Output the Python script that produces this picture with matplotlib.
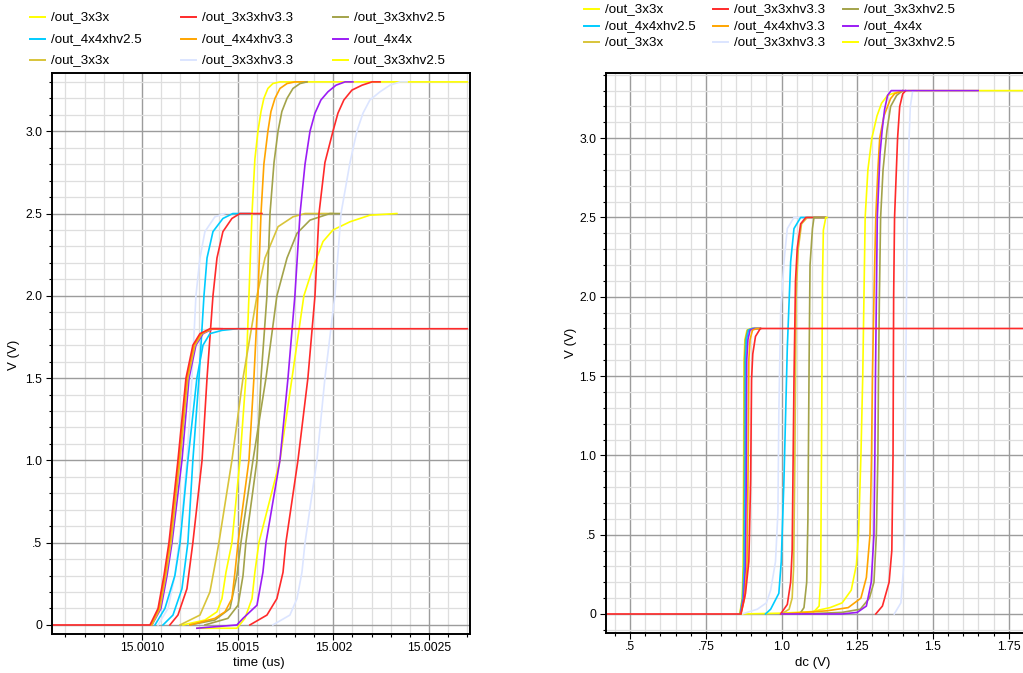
import numpy as np
import matplotlib.pyplot as plt
from matplotlib.lines import Line2D
from matplotlib.ticker import MultipleLocator

plt.rcParams['font.family'] = ['Liberation Sans', 'DejaVu Sans']

W, H = 1023, 673

# legend entries (same for both panels)
legend_labels = ['/out_3x3x', '/out_3x3xhv3.3', '/out_3x3xhv2.5',
                 '/out_4x4xhv2.5', '/out_4x4xhv3.3', '/out_4x4x',
                 '/out_3x3x', '/out_3x3xhv3.3', '/out_3x3xhv2.5']

c_yellow = '#ffff00'
c_red = '#ff2a2a'
c_olive = '#a3a34a'
c_cyan = '#00ccff'
c_orange = '#ffa500'
c_purple = '#9b1cf5'
c_gold = '#d8c43a'
c_lav = '#dce5ff'
legend_colors = [c_yellow, c_red, c_olive, c_cyan, c_orange, c_purple,
                 c_gold, c_lav, c_yellow]

# ---------------- transient: time (us) vs V ----------------
tr_yel33_t = [15.001214, 15.001329, 15.001392, 15.001418, 15.001439, 15.001470, 15.001512,
              15.001543, 15.001559, 15.001575, 15.001590, 15.001606, 15.001622, 15.001637,
              15.001658, 15.001684, 15.001721, 15.0027]
tr_yel33_v = [0, 0.03, 0.08, 0.16, 0.32, 0.5, 1.0, 1.5, 2.0, 2.5, 2.83, 3.0, 3.12, 3.2,
              3.26, 3.29, 3.3, 3.3]

tr_ora33_t = [15.001251, 15.001381, 15.001434, 15.001470, 15.001486, 15.001502, 15.001559,
              15.001585, 15.001606, 15.001622, 15.001637, 15.001658, 15.001674, 15.001695,
              15.001721, 15.001758, 15.001799, 15.001862]
tr_ora33_v = [0, 0.04, 0.08, 0.16, 0.32, 0.5, 1.0, 1.5, 2.0, 2.5, 2.8, 3.0, 3.12, 3.2,
              3.26, 3.29, 3.3, 3.3]

tr_oli33_t = [15.001329, 15.001449, 15.001502, 15.001528, 15.001543, 15.001601, 15.001622,
              15.001653, 15.001669, 15.001690, 15.001711, 15.001731, 15.001758, 15.001789,
              15.001826, 15.001862]
tr_oli33_v = [0, 0.04, 0.12, 0.3, 0.5, 1.0, 1.5, 2.0, 2.5, 2.81, 3.0, 3.12, 3.2, 3.26, 3.29, 3.3]

tr_pur33_t = [15.001287, 15.001496, 15.001528, 15.001601, 15.001632, 15.001648, 15.001721,
              15.001763, 15.001799, 15.001826, 15.001852, 15.001878, 15.001904, 15.001935,
              15.001972, 15.002014, 15.002061, 15.002102]
tr_pur33_v = [-0.02, 0, 0.04, 0.12, 0.32, 0.5, 1.0, 1.5, 2.0, 2.5, 2.8, 3.0, 3.11, 3.19,
              3.24, 3.28, 3.3, 3.3]

tr_red33_t = [15.001564, 15.001653, 15.001705, 15.001737, 15.001752, 15.001815, 15.001867,
              15.001904, 15.001925, 15.001956, 15.001998, 15.002024, 15.002055, 15.002097,
              15.002150, 15.002202, 15.002244]
tr_red33_v = [0, 0.06, 0.16, 0.32, 0.5, 1.0, 1.5, 2.0, 2.5, 2.81, 3.0, 3.11, 3.19, 3.25,
              3.28, 3.3, 3.3]

tr_lav33_t = [15.001684, 15.001773, 15.001810, 15.001836, 15.001852, 15.001914, 15.001956,
              15.002008, 15.002040, 15.002087, 15.002123, 15.002155, 15.002191, 15.002244,
              15.002296, 15.002348, 15.002385]
tr_lav33_v = [0, 0.06, 0.16, 0.32, 0.5, 1.0, 1.5, 2.0, 2.5, 2.81, 3.0, 3.11, 3.19, 3.24,
              3.28, 3.3, 3.3]

tr_lav25_t = [15.001084, 15.001136, 15.001172, 15.001204, 15.001235, 15.001261, 15.001282,
              15.001303, 15.001329, 15.001381, 15.001434]
tr_lav25_v = [0, 0.1, 0.3, 0.6, 1.0, 1.5, 2.0, 2.23, 2.39, 2.48, 2.5]

tr_cya25_t = [15.001110, 15.001162, 15.001209, 15.001240, 15.001266, 15.001298, 15.001324,
              15.001340, 15.001371, 15.001423, 15.001475, 15.001564]
tr_cya25_v = [0, 0.06, 0.22, 0.5, 1.0, 1.5, 2.0, 2.23, 2.39, 2.47, 2.5, 2.5]

tr_red25_t = [15.001146, 15.001188, 15.001235, 15.001266, 15.001314, 15.001340, 15.001371,
              15.001392, 15.001423, 15.001470, 15.001512, 15.001627]
tr_red25_v = [0, 0.06, 0.22, 0.5, 1.0, 1.5, 2.0, 2.23, 2.39, 2.47, 2.5, 2.5]

tr_gol25_t = [15.001199, 15.001303, 15.001355, 15.001387, 15.001402, 15.001470, 15.001528,
              15.001601, 15.001643, 15.001711, 15.001789, 15.001852, 15.001998]
tr_gol25_v = [0, 0.06, 0.2, 0.4, 0.5, 1.0, 1.5, 2.0, 2.23, 2.42, 2.48, 2.5, 2.5]

tr_oli25_t = [15.001251, 15.001381, 15.001460, 15.001496, 15.001517, 15.001580, 15.001648,
              15.001705, 15.001758, 15.001810, 15.001878, 15.001982, 15.002035]
tr_oli25_v = [0, 0.03, 0.1, 0.3, 0.5, 1.0, 1.5, 2.0, 2.23, 2.38, 2.46, 2.5, 2.5]

tr_yel25_t = [15.001287, 15.001496, 15.001538, 15.001575, 15.001590, 15.001611, 15.001721, 15.001784,
              15.001846, 15.001893, 15.001946, 15.001998, 15.002087, 15.002191, 15.002332]
tr_yel25_v = [-0.02, -0.02, 0.04, 0.16, 0.32, 0.5, 1.0, 1.5, 2.0, 2.17, 2.33, 2.4, 2.45, 2.49, 2.5]

tr_cya18_t = [15.001068, 15.001120, 15.001172, 15.001199, 15.001240, 15.001287, 15.001319,
              15.001355, 15.001418, 15.001496, 15.001538]
tr_cya18_v = [0, 0.1, 0.3, 0.5, 1.0, 1.5, 1.7, 1.77, 1.79, 1.8, 1.8]

tr_pur18_t = [15.001052, 15.001099, 15.001131, 15.001157, 15.001209, 15.001246, 15.001282,
              15.001319, 15.001371, 15.001418]
tr_gol18_t = [15.001052, 15.001094, 15.001125, 15.001152, 15.001199, 15.001240, 15.001277,
              15.001314, 15.001366, 15.001408]
tr_ora18_t = [15.001047, 15.001089, 15.001120, 15.001146, 15.001193, 15.001235, 15.001272,
              15.001308, 15.001361, 15.001397]
tr_v18 = [0, 0.1, 0.3, 0.5, 1.0, 1.5, 1.7, 1.77, 1.8, 1.8]

tr_red18_t = [15.00053, 15.001042, 15.001084, 15.001115, 15.001141, 15.001188, 15.001230,
              15.001266, 15.001303, 15.001355, 15.0027]
tr_red18_v = [0, 0, 0.1, 0.3, 0.5, 1.0, 1.5, 1.7, 1.77, 1.8, 1.8]

# ---------------- dc sweep: dc (V) vs V ----------------
dc_yel33_x = [0.870, 1.00, 1.10, 1.16, 1.20, 1.23, 1.247, 1.254, 1.262, 1.268, 1.272, 1.276,
              1.285, 1.298, 1.315, 1.33, 1.35, 1.38, 1.42, 1.797]
dc_yel33_v = [0, 0.005, 0.015, 0.04, 0.07, 0.15, 0.31, 0.5, 1.0, 1.5, 2.0, 2.5,
              2.8, 3.0, 3.14, 3.22, 3.27, 3.29, 3.3, 3.3]

dc_ora33_x = [1.00, 1.15, 1.22, 1.262, 1.28, 1.292, 1.297, 1.300, 1.305, 1.311, 1.318,
              1.324, 1.338, 1.36, 1.373, 1.40]
dc_ora33_v = [0, 0.02, 0.04, 0.1, 0.23, 0.5, 1.0, 1.5, 2.0, 2.5, 2.8, 3.0, 3.14, 3.25, 3.28, 3.3]

dc_oli33_x = [1.07, 1.20, 1.26, 1.29, 1.305, 1.313, 1.318, 1.320, 1.323, 1.327, 1.335,
              1.348, 1.36, 1.38, 1.40]
dc_oli33_v = [0, 0.01, 0.03, 0.1, 0.2, 0.5, 1.0, 1.5, 2.0, 2.5, 2.8, 3.05, 3.2, 3.27, 3.3]

dc_pur33_x = [1.00, 1.20, 1.25, 1.28, 1.296, 1.305, 1.308, 1.310, 1.313, 1.316, 1.325,
              1.332, 1.340, 1.350, 1.362, 1.649]
dc_pur33_v = [0, 0, 0.01, 0.05, 0.2, 0.5, 1.0, 1.5, 2.0, 2.5, 2.9, 3.05, 3.18, 3.27, 3.3, 3.3]

dc_red33_x = [1.311, 1.333, 1.355, 1.364, 1.368, 1.370, 1.373, 1.383, 1.390, 1.400, 1.410]
dc_red33_v = [0, 0.05, 0.2, 0.4, 1.0, 2.0, 2.5, 3.0, 3.2, 3.28, 3.3]

dc_lav33_x = [1.372, 1.394, 1.403, 1.406, 1.410, 1.415, 1.421, 1.425, 1.433, 1.44]
dc_lav33_v = [0, 0.07, 0.3, 0.5, 1.5, 2.5, 3.0, 3.2, 3.3, 3.3]

dc_lav25_x = [0.870, 0.920, 0.950, 0.964, 0.980, 0.988, 0.991, 0.997, 1.008, 1.019, 1.041, 1.145]
dc_lav25_v = [0, 0.03, 0.07, 0.15, 0.33, 0.64, 1.26, 1.9, 2.22, 2.43, 2.5, 2.5]

dc_cya25_x = [0.947, 0.964, 0.991, 0.999, 1.008, 1.019, 1.030, 1.041, 1.063, 1.145]
dc_cya25_v = [0, 0.03, 0.13, 0.33, 0.85, 1.68, 2.22, 2.43, 2.5, 2.5]

dc_red25_x = [0.997, 1.019, 1.030, 1.035, 1.041, 1.046, 1.052, 1.063, 1.080, 1.145]
dc_red25_v = [0, 0.06, 0.2, 0.4, 1.47, 2.1, 2.31, 2.46, 2.5, 2.5]

dc_gol25_x = [1.000, 1.025, 1.035, 1.040, 1.044, 1.048, 1.055, 1.066, 1.085, 1.145]
dc_gol25_v = [0, 0.03, 0.1, 0.3, 1.0, 2.0, 2.3, 2.46, 2.5, 2.5]

dc_oli25_x = [1.060, 1.074, 1.083, 1.087, 1.091, 1.094, 1.102, 1.107, 1.145]
dc_oli25_v = [0, 0.04, 0.2, 0.6, 1.6, 2.2, 2.43, 2.5, 2.5]

dc_yel25_x = [1.100, 1.124, 1.129, 1.132, 1.135, 1.138, 1.146, 1.15]
dc_yel25_v = [0, 0.05, 0.21, 1.05, 2.1, 2.42, 2.5, 2.5]

dc_yel18_x = [0.862, 0.870, 0.873, 0.875, 0.876, 0.879, 0.886, 0.900, 0.93]
dc_oli18_x = [0.863, 0.871, 0.875, 0.877, 0.878, 0.881, 0.888, 0.902, 0.93]
dc_cya18_x = [0.864, 0.873, 0.877, 0.880, 0.881, 0.884, 0.891, 0.905, 0.93]
dc_pur18_x = [0.865, 0.875, 0.881, 0.884, 0.885, 0.889, 0.896, 0.910, 0.93]
dc_ora18_x = [0.866, 0.878, 0.886, 0.890, 0.892, 0.896, 0.904, 0.918, 0.93]
dc_v18 = [0, 0.1, 0.3, 1.0, 1.6, 1.73, 1.79, 1.8, 1.8]

dc_red18_x = [0.4205, 0.866, 0.881, 0.892, 0.898, 0.901, 0.905, 0.914, 0.930, 1.8]
dc_red18_v = [0, 0, 0.13, 0.33, 0.85, 1.48, 1.64, 1.75, 1.8, 1.8]

y_ticks = [0, 0.5, 1.0, 1.5, 2.0, 2.5, 3.0]
y_ticklabels = ['0', '.5', '1.0', '1.5', '2.0', '2.5', '3.0']
tr_ticks = [15.0010, 15.0015, 15.0020, 15.0025]
tr_ticklabels = ['15.0010', '15.0015', '15.002', '15.0025']
dc_ticks = [0.5, 0.75, 1.0, 1.25, 1.5, 1.75]
dc_ticklabels = ['.5', '.75', '1.0', '1.25', '1.5', '1.75']

fig = plt.figure(figsize=(W / 100, H / 100), dpi=100)


def px_box(x0, y0, x1, y1):
    return [x0 / W, 1 - y1 / H, (x1 - x0) / W, (y1 - y0) / H]


def style_axes(ax, xminor):
    ax.set_axisbelow(True)
    ax.xaxis.set_minor_locator(MultipleLocator(xminor))
    ax.yaxis.set_minor_locator(MultipleLocator(0.1))
    ax.grid(which='minor', color='#dedede', lw=0.9)
    ax.grid(which='major', color='#9c9c9c', lw=1.0)
    ax.tick_params(which='major', direction='out', length=4, width=0.8, labelsize=8.8, pad=3)
    ax.tick_params(which='minor', direction='out', length=2.5, width=0.8)
    ax.tick_params(axis='x', which='major', pad=2)
    for s in ax.spines.values():
        s.set_linewidth(1.4)
        s.set_color('black')


lw = 1.2

# left panel
ax1 = fig.add_axes(px_box(52, 73, 470, 634))
ax1.set_xlim(15.00053, 15.002714)
ax1.set_ylim(-0.055, 3.354)
style_axes(ax1, 0.0001)
ax1.set_xticks(tr_ticks)
ax1.set_xticklabels(tr_ticklabels)
ax1.set_yticks(y_ticks)
ax1.set_yticklabels(y_ticklabels)

tr_curves = [
    (tr_yel33_t, tr_yel33_v, c_yellow),
    (tr_yel25_t, tr_yel25_v, c_yellow),
    (tr_gol25_t, tr_gol25_v, c_gold),
    (tr_oli25_t, tr_oli25_v, c_olive),
    (tr_ora33_t, tr_ora33_v, c_orange),
    (tr_oli33_t, tr_oli33_v, c_olive),
    (tr_pur33_t, tr_pur33_v, c_purple),
    (tr_red33_t, tr_red33_v, c_red),
    (tr_lav33_t, tr_lav33_v, c_lav),
    (tr_lav25_t, tr_lav25_v, c_lav),
    (tr_cya25_t, tr_cya25_v, c_cyan),
    (tr_red25_t, tr_red25_v, c_red),
    (tr_cya18_t, tr_cya18_v, c_cyan),
    (tr_pur18_t, tr_v18, c_purple),
    (tr_gol18_t, tr_v18, c_gold),
    (tr_ora18_t, tr_v18, c_orange),
    (tr_red18_t, tr_red18_v, c_red),
]
for x, y, c in tr_curves:
    ax1.plot(x, y, color=c, lw=lw, solid_joinstyle='round')

# right panel
ax2 = fig.add_axes(px_box(606, 73, 1023, 633))
ax2.set_xlim(0.4205, 1.797)
ax2.set_ylim(-0.12, 3.411)
style_axes(ax2, 0.05)
ax2.spines['right'].set_visible(False)
ax2.set_xticks(dc_ticks)
ax2.set_xticklabels(dc_ticklabels)
ax2.set_yticks(y_ticks)
ax2.set_yticklabels(y_ticklabels)

dc_curves = [
    (dc_yel33_x, dc_yel33_v, c_yellow),
    (dc_lav25_x, dc_lav25_v, c_lav),
    (dc_cya25_x, dc_cya25_v, c_cyan),
    (dc_gol25_x, dc_gol25_v, c_gold),
    (dc_red25_x, dc_red25_v, c_red),
    (dc_oli25_x, dc_oli25_v, c_olive),
    (dc_yel25_x, dc_yel25_v, c_yellow),
    (dc_lav33_x, dc_lav33_v, c_lav),
    (dc_oli33_x, dc_oli33_v, c_olive),
    (dc_ora33_x, dc_ora33_v, c_orange),
    (dc_red33_x, dc_red33_v, c_red),
    (dc_pur33_x, dc_pur33_v, c_purple),
    (dc_yel18_x, dc_v18, c_yellow),
    (dc_oli18_x, dc_v18, c_olive),
    (dc_cya18_x, dc_v18, c_cyan),
    (dc_pur18_x, dc_v18, c_purple),
    (dc_ora18_x, dc_v18, c_orange),
    (dc_red18_x, dc_red18_v, c_red),
]
for x, y, c in dc_curves:
    ax2.plot(x, y, color=c, lw=lw, solid_joinstyle='round')

# axis titles
fig.text(259 / W, 1 - 663 / H, 'time (us)', ha='center', va='center', fontsize=9.5)
fig.text(813 / W, 1 - 663 / H, 'dc (V)', ha='center', va='center', fontsize=9.5)
fig.text(14 / W, 1 - 355 / H, 'V (V)', ha='center', va='center', rotation=90, fontsize=9.5)
fig.text(571 / W, 1 - 343 / H, 'V (V)', ha='center', va='center', rotation=90, fontsize=9.5)


# legends: 3 columns x 3 rows
def draw_legend(col_x, row_y):
    for i, (lab, col) in enumerate(zip(legend_labels, legend_colors)):
        x0 = col_x[i % 3]
        y0 = row_y[i // 3]
        fig.add_artist(Line2D([x0 / W, (x0 + 15) / W], [1 - y0 / H, 1 - y0 / H],
                              transform=fig.transFigure, color=col, lw=1.4))
        fig.text((x0 + 21) / W, 1 - y0 / H, lab, ha='left', va='center', fontsize=9.6)


draw_legend([30, 181, 333], [17, 39, 60])
draw_legend([584, 713, 843], [9, 26, 42])

fig.savefig('out.png', dpi=100)
